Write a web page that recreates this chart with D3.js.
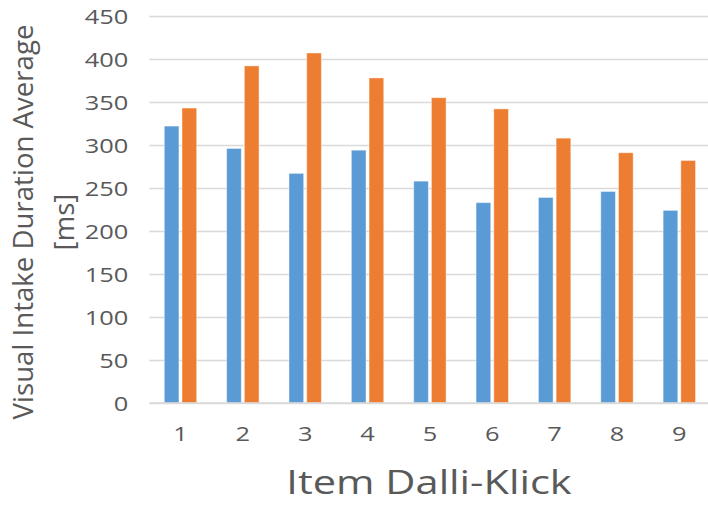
<!DOCTYPE html>
<html>
<head>
<meta charset="utf-8">
<script src="https://cdn.jsdelivr.net/npm/d3@7"></script>
<style>
  html, body { margin: 0; padding: 0; background: #fff; }
  svg { display: block; }
  text { font-family: "Open Sans", "Noto Sans", sans-serif; fill: #595959; }
</style>
</head>
<body>
<svg id="chart" width="708" height="508"></svg>
<script>
// Item numbers along the x axis
const items = ["1", "2", "3", "4", "5", "6", "7", "8", "9"];
// Two series of average visual intake durations (ms) per item
const seriesNames = ["first", "second"];
const firstValues = [322, 296, 267, 294, 258, 233, 239, 246, 224];
const secondValues = [343, 392, 407, 378, 355, 342, 308, 291, 282];
// Value axis ticks
const yTicks = [0, 50, 100, 150, 200, 250, 300, 350, 400, 450];

const colors = { first: "#5b9bd5", second: "#ed7d31" };
const xTitle = "Item Dalli-Klick";
const yTitleLines = ["Visual Intake Duration Average", "[ms]"];

const svg = d3.select("#chart");
const W = 708;
const plot = { left: 149.3, right: 710.5, top: 16, bottom: 403 };
const stretch = 1.27; // horizontal widening of the horizontal labels

const x0 = d3.scaleBand().domain(items).range([plot.left, plot.right]).padding(0);
const x1 = d3.scaleBand().domain(seriesNames).range([0, x0.bandwidth()])
  .paddingInner(0.17).paddingOuter(0.845);
const y = d3.scaleLinear().domain([0, 450]).range([plot.bottom, plot.top]);

// Gridlines and value labels
const yAxis = d3.axisLeft(y).tickValues(yTicks).tickSize(-(W - plot.left)).tickFormat(d3.format("d"));
const gy = svg.append("g").attr("transform", `translate(${plot.left},0)`).call(yAxis);
gy.select(".domain").remove();
gy.selectAll(".tick line").attr("stroke", "#d9d9d9").attr("stroke-width", 1.4);
gy.selectAll(".tick text")
  .attr("x", 0).attr("dy", null)
  .attr("dominant-baseline", "central")
  .attr("text-anchor", "end")
  .attr("transform", `translate(-21,0) scale(${stretch},1)`)
  .style("font-size", "20px").style("fill", "#595959")
  .style("font-family", '"Open Sans", sans-serif');

// Bars
const rows = items.map((it, i) => ({ item: it, first: firstValues[i], second: secondValues[i] }));
const groups = svg.append("g").selectAll("g").data(rows).join("g")
  .attr("transform", d => `translate(${x0(d.item)},0)`);
groups.selectAll("rect")
  .data(d => seriesNames.map(k => ({ key: k, value: d[k] })))
  .join("rect")
  .attr("x", d => x1(d.key))
  .attr("width", x1.bandwidth())
  .attr("y", d => y(d.value))
  .attr("height", d => y(0) - y(d.value))
  .attr("fill", d => colors[d.key])
  .attr("stroke", "rgba(255,255,255,0.45)")
  .attr("stroke-width", 1);

// Category axis labels
const xAxis = d3.axisBottom(x0).tickSize(0).tickSizeOuter(0);
const gx = svg.append("g").attr("transform", `translate(0,${plot.bottom})`).call(xAxis);
gx.select(".domain").remove();
gx.selectAll(".tick text")
  .attr("y", 0).attr("dy", null)
  .attr("dominant-baseline", "central")
  .attr("transform", `translate(0,31) scale(${stretch},1)`)
  .style("font-size", "20px").style("fill", "#595959")
  .style("font-family", '"Open Sans", sans-serif');

// Baseline at zero
svg.append("line")
  .attr("x1", plot.left).attr("x2", W)
  .attr("y1", y(0)).attr("y2", y(0))
  .attr("stroke", "#d9d9d9").attr("stroke-width", 1.6);

// Axis titles
svg.append("text")
  .attr("transform", `translate(429,494) scale(1.28,1)`)
  .attr("text-anchor", "middle")
  .style("font-size", "32.5px")
  .text(xTitle);

const yTitle = svg.append("text")
  .attr("transform", "translate(0,222) rotate(-90)")
  .attr("text-anchor", "middle")
  .style("font-size", "27.6px");
yTitle.append("tspan").attr("x", 0).attr("y", 33).text(yTitleLines[0]);
yTitle.append("tspan").attr("x", 0).attr("y", 74).text(yTitleLines[1]);
</script>
</body>
</html>
